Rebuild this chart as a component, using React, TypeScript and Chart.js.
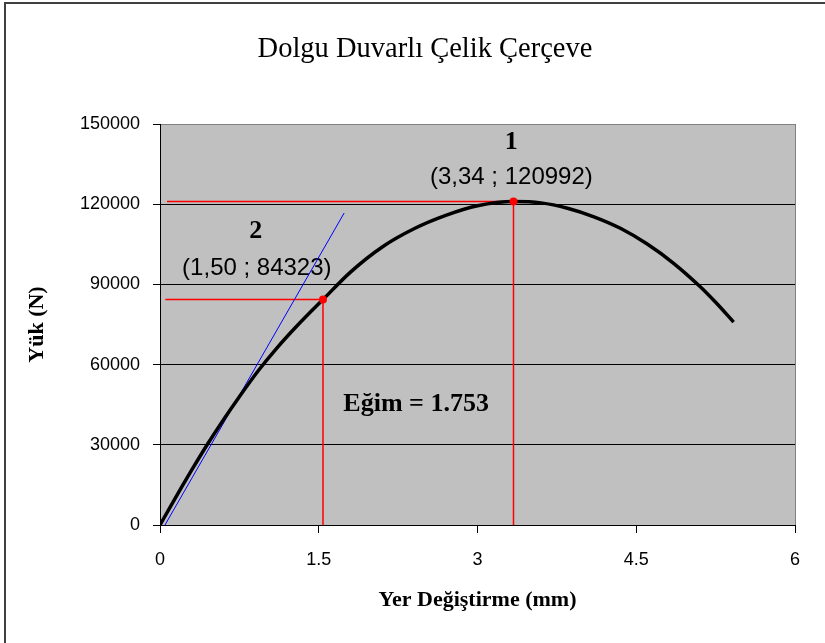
import React, { useEffect, useRef } from 'react';
import { Chart, registerables } from 'chart.js';

Chart.register(...registerables);

const TITLE = 'Dolgu Duvarlı Çelik Çerçeve';
const X_TITLE = 'Yer Değiştirme (mm)';
const Y_TITLE = 'Yük (N)';
const X_TICKS = [0, 1.5, 3, 4.5, 6];
const Y_TICKS = [0, 30000, 60000, 90000, 120000, 150000];

// Load–displacement curve
const CURVE_X = [0, 0.1, 0.2, 0.3, 0.45, 0.6, 0.75, 0.93, 1.1, 1.3, 1.54, 1.8, 2.1, 2.4, 2.7, 3.0, 3.34, 3.6, 3.85, 4.1, 4.35, 4.6, 4.85, 5.1, 5.25, 5.42];
const CURVE_Y = [0, 7000, 13900, 20600, 30300, 39400, 48000, 57800, 66000, 74700, 84323, 94600, 104000, 110800, 115800, 119400, 120992, 120500, 118500, 115300, 111000, 105200, 98000, 89300, 83300, 75900];

// Marked points
const POINT_X = [1.54, 3.34];
const POINT_Y = [84323, 120992];
const POINT_NAMES = ['2', '1'];
const POINT_LABELS = ['(1,50 ; 84323)', '(3,34 ; 120992)'];
const GUIDE_START_X = [0.05, 0.066];

// Initial slope (tangent) line
const TANGENT_X = [0.047, 1.74];
const TANGENT_Y = [0, 116700];
const SLOPE_LABEL = 'Eğim = 1.753';

export default function App() {
  const ref = useRef<HTMLCanvasElement | null>(null);

  useEffect(() => {
    const canvas = ref.current;
    if (!canvas) return;

    const textPos = {
      names: [
        { x: 0.905, y: 110000 },
        { x: 3.32, y: 143300 },
      ],
      labels: [
        { x: 0.915, y: 96150 },
        { x: 3.32, y: 130000 },
      ],
      slope: { x: 2.42, y: 45000 },
    };

    const bgPlugin = {
      id: 'bg',
      beforeDraw(chart: any) {
        const { ctx, chartArea: a } = chart;
        ctx.save();
        ctx.fillStyle = '#ffffff';
        ctx.fillRect(0, 0, chart.width, chart.height);
        ctx.fillStyle = '#c0c0c0';
        ctx.fillRect(a.left, a.top, a.right - a.left, a.bottom - a.top);
        ctx.fillStyle = '#000000';
        ctx.textAlign = 'center';
        ctx.textBaseline = 'middle';
        ctx.font = '28.5px "Liberation Serif"';
        ctx.fillText(TITLE, 425, 50);
        ctx.restore();
      },
      beforeDatasetsDraw(chart: any) {
        const { ctx, scales } = chart;
        const xs = scales.x;
        const ys = scales.y;
        ctx.save();
        ctx.fillStyle = '#000000';
        ctx.textAlign = 'center';
        ctx.textBaseline = 'middle';
        ctx.font = 'bold 26px "Liberation Serif"';
        POINT_NAMES.forEach((n, i) => {
          const p = textPos.names[i];
          ctx.fillText(n, xs.getPixelForValue(p.x), ys.getPixelForValue(p.y));
        });
        ctx.font = '24px "Liberation Sans"';
        POINT_LABELS.forEach((t, i) => {
          const p = textPos.labels[i];
          ctx.fillText(t, xs.getPixelForValue(p.x), ys.getPixelForValue(p.y));
        });
        ctx.font = 'bold 26px "Liberation Serif"';
        ctx.fillText(SLOPE_LABEL, xs.getPixelForValue(textPos.slope.x), ys.getPixelForValue(textPos.slope.y));
        ctx.restore();
      },
      afterDraw(chart: any) {
        const { ctx, chartArea: a } = chart;
        ctx.save();
        ctx.strokeStyle = '#808080';
        ctx.lineWidth = 1;
        ctx.beginPath();
        ctx.moveTo(a.right + 0.5, a.top);
        ctx.lineTo(a.right + 0.5, a.bottom);
        ctx.stroke();
        // outer frame (left and top)
        ctx.strokeStyle = '#404040';
        ctx.lineWidth = 2;
        ctx.beginPath();
        ctx.moveTo(5, chart.height);
        ctx.lineTo(5, 3);
        ctx.lineTo(chart.width, 3);
        ctx.stroke();
        ctx.restore();
      },
    };

    const guide = (i: number) => [
      { x: GUIDE_START_X[i], y: POINT_Y[i] },
      { x: POINT_X[i], y: POINT_Y[i] },
      { x: POINT_X[i], y: 0 },
    ];

    const chart = new Chart(canvas, {
      type: 'scatter',
      data: {
        datasets: [
          {
            label: 'points',
            data: POINT_X.map((x, i) => ({ x, y: POINT_Y[i] })),
            showLine: false,
            pointRadius: 4,
            pointBackgroundColor: '#ff0000',
            pointBorderColor: '#ff0000',
            pointBorderWidth: 0,
          },
          {
            label: 'curve',
            data: CURVE_X.map((x, i) => ({ x, y: CURVE_Y[i] })),
            showLine: true,
            borderColor: '#000000',
            borderWidth: 3.5,
            pointRadius: 0,
            cubicInterpolationMode: 'monotone',
          },
          {
            label: 'tangent',
            data: TANGENT_X.map((x, i) => ({ x, y: TANGENT_Y[i] })),
            showLine: true,
            borderColor: '#0000ff',
            borderWidth: 1,
            pointRadius: 0,
          },
          {
            label: 'guide2',
            data: guide(0),
            showLine: true,
            borderColor: '#ff0000',
            borderWidth: 1.5,
            pointRadius: 0,
          },
          {
            label: 'guide1',
            data: guide(1),
            showLine: true,
            borderColor: '#ff0000',
            borderWidth: 1.5,
            pointRadius: 0,
          },
        ],
      },
      options: {
        responsive: false,
        animation: false,
        events: [],
        layout: { padding: { left: 0, right: 30, top: 124, bottom: 0 } },
        plugins: {
          legend: { display: false },
          tooltip: { enabled: false },
          title: { display: false },
        },
        scales: {
          x: {
            type: 'linear',
            min: 0,
            max: 6,
            afterFit(scale: any) {
              scale.height = 118;
            },
            afterBuildTicks(scale: any) {
              scale.ticks = X_TICKS.map((v) => ({ value: v }));
            },
            ticks: {
              color: '#000000',
              font: { family: '"Liberation Sans"', size: 18 },
              padding: 16,
              maxRotation: 0,
              autoSkip: false,
              callback: (v: any) => String(v),
            },
            grid: {
              drawOnChartArea: false,
              drawTicks: true,
              tickLength: 8,
              tickColor: '#000000',
              color: '#000000',
            },
            border: { display: true, color: '#000000', width: 1 },
            title: {
              display: true,
              text: X_TITLE,
              color: '#000000',
              font: { family: '"Liberation Serif"', size: 22, weight: 'bold', lineHeight: 1.2 },
              padding: { top: 0, bottom: 29 },
            },
          },
          y: {
            type: 'linear',
            min: 0,
            max: 150000,
            afterFit(scale: any) {
              scale.width = 160;
            },
            afterBuildTicks(scale: any) {
              scale.ticks = Y_TICKS.map((v) => ({ value: v }));
            },
            ticks: {
              color: '#000000',
              font: { family: '"Liberation Sans"', size: 18 },
              padding: 13,
              autoSkip: false,
              callback: (v: any) => String(v),
            },
            grid: {
              drawOnChartArea: true,
              drawTicks: true,
              tickLength: 7,
              tickColor: '#000000',
              color: (c: any) => (c.tick && c.tick.value === 150000 ? '#808080' : '#000000'),
              lineWidth: 1,
            },
            border: { display: true, color: '#000000', width: 1 },
            title: {
              display: true,
              text: Y_TITLE,
              color: '#000000',
              font: { family: '"Liberation Serif"', size: 22, weight: 'bold', lineHeight: 1.2 },
              padding: { top: 24, bottom: 0 },
            },
          },
        },
      },
      plugins: [bgPlugin],
    } as any);

    return () => chart.destroy();
  }, []);

  return (
    <div style={{ position: 'fixed', left: 0, top: 0, width: 825, height: 643, background: '#ffffff' }}>
      <canvas ref={ref} width={825} height={643} style={{ display: 'block', width: 825, height: 643 }} />
    </div>
  );
}
